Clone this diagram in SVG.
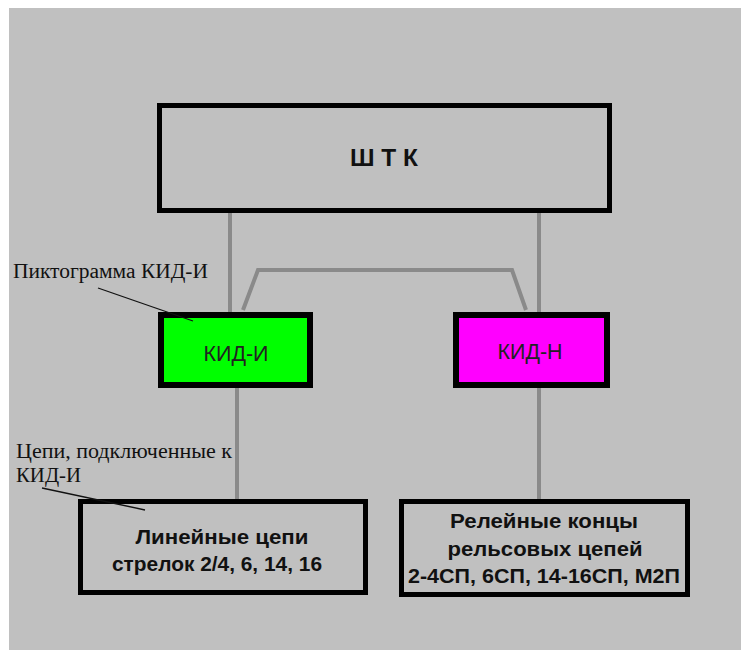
<svg xmlns="http://www.w3.org/2000/svg" width="741" height="650" viewBox="0 0 741 650">
<style>
.box{stroke:#000;}
.bold{font-family:"Liberation Sans",Arial,sans-serif;font-weight:bold;fill:#111;text-anchor:middle;}
.reg{font-family:"Liberation Sans",Arial,sans-serif;fill:#222;text-anchor:middle;}
.note{font-family:"Liberation Serif","Times New Roman",serif;fill:#111;font-size:20px;}
.conn{fill:none;stroke:#8a8a8a;stroke-width:4;}
.leader{stroke:#111;stroke-width:1.3;fill:none;}
</style>
<rect x="0" y="0" width="741" height="650" fill="#ffffff"/>
<rect x="9" y="8" width="732" height="642" fill="#c0c0c0"/>
<g id="connectors">
<line class="conn" x1="230" y1="212" x2="230" y2="312"/>
<line class="conn" x1="539" y1="212" x2="539" y2="312"/>
<polyline class="conn" points="243,310 258,270 512,270 526,310"/>
<line class="conn" x1="237" y1="388" x2="237" y2="499"/>
<line class="conn" x1="539" y1="388" x2="539" y2="499"/>
</g>
<g id="shtk">
<rect class="box" x="159.5" y="105.5" width="450" height="105" fill="#c0c0c0" stroke-width="5"/>
<text class="bold" x="384" y="166" font-size="23" textLength="68" lengthAdjust="spacingAndGlyphs">Ш Т К</text>
</g>
<g id="kid-i">
<rect class="box" x="161" y="315" width="149" height="70" fill="#00ff00" stroke-width="6"/>
<text class="reg" x="236" y="361" font-size="22" textLength="65" lengthAdjust="spacingAndGlyphs">КИД-И</text>
</g>
<g id="kid-n">
<rect class="box" x="456" y="315" width="151" height="70" fill="#ff00ff" stroke-width="6"/>
<text class="reg" x="530" y="359" font-size="22" textLength="65" lengthAdjust="spacingAndGlyphs">КИД-Н</text>
</g>
<g id="lin">
<rect class="box" x="80.5" y="501.5" width="285" height="91" fill="#c0c0c0" stroke-width="5"/>
<text class="bold" x="222" y="544" font-size="20" textLength="173" lengthAdjust="spacingAndGlyphs">Линейные цепи</text>
<text class="bold" x="217" y="571" font-size="20" textLength="210" lengthAdjust="spacingAndGlyphs">стрелок 2/4, 6, 14, 16</text>
</g>
<g id="rel">
<rect class="box" x="401.5" y="501.5" width="286" height="93" fill="#c0c0c0" stroke-width="5"/>
<text class="bold" x="544" y="528" font-size="20" textLength="188" lengthAdjust="spacingAndGlyphs">Релейные концы</text>
<text class="bold" x="545" y="556" font-size="20" textLength="195" lengthAdjust="spacingAndGlyphs">рельсовых цепей</text>
<text class="bold" x="544" y="583" font-size="20" textLength="272" lengthAdjust="spacingAndGlyphs">2-4СП, 6СП, 14-16СП, М2П</text>
</g>
<g id="note-pikt">
<text class="note" x="13" y="278" textLength="195" lengthAdjust="spacingAndGlyphs">Пиктограмма КИД-И</text>
<line class="leader" x1="98" y1="288" x2="193" y2="321"/>
</g>
<g id="note-cepi">
<text class="note" x="16" y="458" textLength="216" lengthAdjust="spacingAndGlyphs">Цепи, подключенные к</text>
<text class="note" x="16" y="482" textLength="65" lengthAdjust="spacingAndGlyphs">КИД-И</text>
<line class="leader" x1="42" y1="488" x2="145" y2="510"/>
</g>
</svg>
